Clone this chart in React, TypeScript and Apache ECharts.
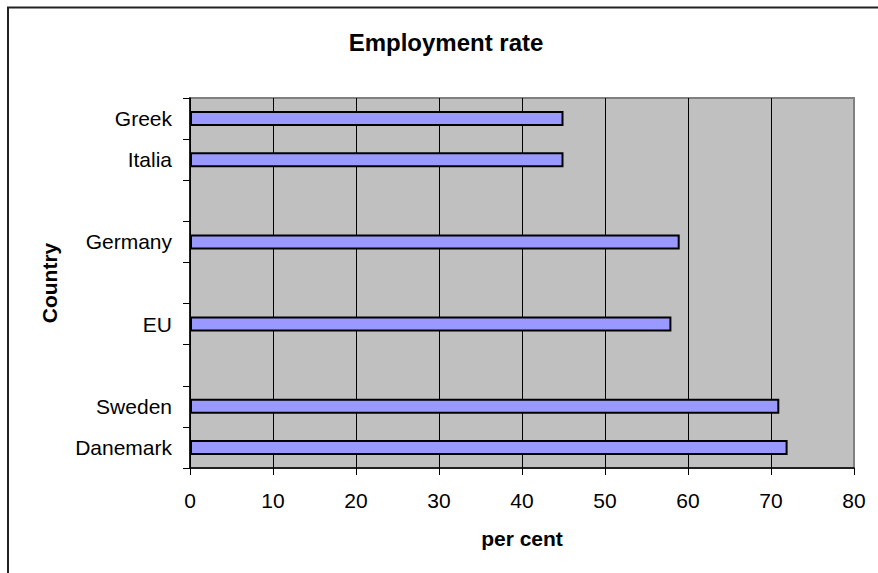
import React, { useEffect, useRef } from "react";
import * as echarts from "echarts";

const categories: string[] = ["Danemark", "Sweden", " ", "EU", "  ", "Germany", "   ", "Italia", "Greek"];
const employmentRate: (number | null)[] = [72, 71, null, 58, null, 59, null, 45, 45];
const xTicks = { min: 0, max: 80, interval: 10 };
const titleText = "Employment rate";
const xAxisName = "per cent";
const yAxisName = "Country";

const FONT = 'Arial, "Liberation Sans", Helvetica, sans-serif';

export default function App() {
  const ref = useRef<HTMLDivElement>(null);
  useEffect(() => {
    if (!ref.current) return;
    const chart = echarts.init(ref.current, undefined, { renderer: "svg" });
    const gridColors = ["#000", "#000", "#000", "#000", "#000", "#000", "#000", "#000", "#808080"];
    chart.setOption({
      animation: false,
      backgroundColor: "#ffffff",
      grid: {
        left: 190,
        right: 24,
        top: 98,
        bottom: 105,
        show: true,
        backgroundColor: "#C0C0C0",
        borderColor: "#808080",
        borderWidth: 2,
      },
      xAxis: {
        type: "value",
        min: xTicks.min,
        max: xTicks.max,
        interval: xTicks.interval,
        axisLine: { show: true, lineStyle: { color: "#000", width: 1.5 } },
        axisTick: { show: true, length: 7, lineStyle: { color: "#000", width: 1 } },
        axisLabel: { color: "#000", fontSize: 21, fontFamily: FONT, margin: 22 },
        splitLine: { show: true, lineStyle: { color: gridColors, width: 1 } },
      },
      yAxis: {
        type: "category",
        data: categories,
        axisLine: { show: true, lineStyle: { color: "#000", width: 1.5 } },
        axisTick: { show: true, length: 7, lineStyle: { color: "#000", width: 1 } },
        axisLabel: { color: "#000", fontSize: 21, fontFamily: FONT, margin: 18 },
        splitLine: { show: false },
      },
      series: [
        {
          type: "bar",
          data: employmentRate,
          barWidth: 15,
          itemStyle: { color: "#9999FF", borderColor: "#000", borderWidth: 2 },
        },
      ],
      graphic: [
        {
          type: "rect",
          shape: { x: 8, y: 7.5, width: 1200, height: 1200 },
          style: { fill: "none", stroke: "#222", lineWidth: 2 },
          silent: true,
        },
        {
          type: "text",
          x: 446,
          y: 42,
          style: {
            text: titleText,
            fill: "#000",
            font: `bold 24px ${FONT}`,
            textAlign: "center",
            textVerticalAlign: "middle",
          },
        },
        {
          type: "text",
          x: 522,
          y: 538,
          style: {
            text: xAxisName,
            fill: "#000",
            font: `bold 21px ${FONT}`,
            textAlign: "center",
            textVerticalAlign: "middle",
          },
        },
        {
          type: "text",
          x: 49,
          y: 283,
          rotation: Math.PI / 2,
          style: {
            text: yAxisName,
            fill: "#000",
            font: `bold 21px ${FONT}`,
            textAlign: "center",
            textVerticalAlign: "middle",
          },
        },
      ],
    });
    return () => chart.dispose();
  }, []);
  return (
    <div
      ref={ref}
      style={{ position: "fixed", left: 0, top: 0, width: 878, height: 573 }}
    />
  );
}
